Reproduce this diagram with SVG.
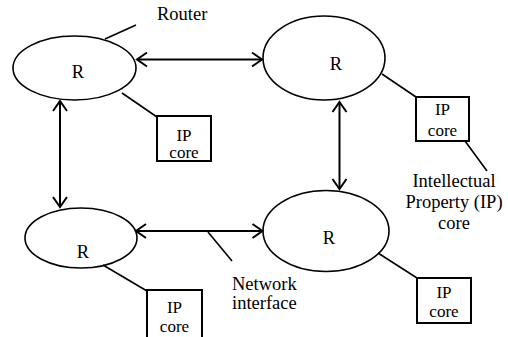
<svg xmlns="http://www.w3.org/2000/svg" width="508" height="337" viewBox="0 0 508 337">
<defs>
<marker id="ah" markerUnits="userSpaceOnUse" markerWidth="16" markerHeight="18" viewBox="-12 -9 14 18" refX="0" refY="0" orient="auto-start-reverse">
<path d="M -10 -7 L 0 0 L -10 7" fill="none" stroke="#000" stroke-width="2"/>
</marker>
</defs>
<style>
.n{fill:none;stroke:#000;stroke-width:1.6}
.b{fill:#fff;stroke:#000;stroke-width:2}
.l{stroke:#000;stroke-width:1.6;fill:none}
.a{stroke:#000;stroke-width:2;fill:none;marker-start:url(#ah);marker-end:url(#ah)}
text{font-family:'Liberation Serif','Times New Roman',serif;font-size:18.5px;fill:#000}
.c{text-anchor:middle}
.s{font-size:17px}
</style>
<rect width="508" height="337" fill="#fff"/>
<g id="connectors">
<line class="a" x1="137" y1="59.5" x2="262" y2="59.5"/>
<line class="a" x1="60" y1="101" x2="60" y2="207"/>
<line class="a" x1="339.5" y1="102" x2="339.5" y2="189"/>
<line class="a" x1="136" y1="231" x2="262.5" y2="231"/>
<line class="l" x1="105" y1="39" x2="136" y2="25"/>
<line class="l" x1="122" y1="93" x2="157" y2="117"/>
<line class="l" x1="382" y1="74" x2="416" y2="97"/>
<line class="l" x1="465" y1="141" x2="487" y2="171"/>
<line class="l" x1="103" y1="265" x2="147" y2="291"/>
<line class="l" x1="378" y1="253" x2="417" y2="278"/>
<line class="l" x1="208" y1="232" x2="232" y2="261"/>
</g>
<g id="router-tl">
<ellipse class="n" cx="74.5" cy="68" rx="61.5" ry="32"/>
<text class="c" x="78" y="78">R</text>
</g>
<g id="router-tr">
<ellipse class="n" cx="324" cy="58" rx="61" ry="42"/>
<text class="c" x="336" y="70">R</text>
</g>
<g id="router-bl">
<ellipse class="n" cx="81" cy="238" rx="56" ry="30"/>
<text class="c" x="83" y="258">R</text>
</g>
<g id="router-br">
<ellipse class="n" cx="326" cy="231" rx="63" ry="40.5"/>
<text class="c" x="329" y="244">R</text>
</g>
<g id="ip-tl">
<rect class="b" x="157" y="116" width="54" height="45"/>
<text class="c s" x="184" y="140.5">IP</text>
<text class="c s" x="184" y="158">core</text>
</g>
<g id="ip-tr">
<rect class="b" x="416" y="97" width="53" height="44"/>
<text class="c s" x="442.5" y="115">IP</text>
<text class="c s" x="442.5" y="136">core</text>
</g>
<g id="ip-bl">
<rect class="b" x="147" y="290" width="55" height="50"/>
<text class="c s" x="174.5" y="313">IP</text>
<text class="c s" x="174.5" y="332">core</text>
</g>
<g id="ip-br">
<rect class="b" x="417" y="278" width="54" height="45"/>
<text class="c s" x="444" y="297.5">IP</text>
<text class="c s" x="444" y="316.5">core</text>
</g>
<g id="labels">
<text x="157" y="20">Router</text>
<text class="c" x="454" y="187">Intellectual</text>
<text class="c" x="454" y="208">Property (IP)</text>
<text class="c" x="454" y="228.5">core</text>
<text x="232" y="290">Network</text>
<text x="232" y="309">interface</text>
</g>
</svg>
